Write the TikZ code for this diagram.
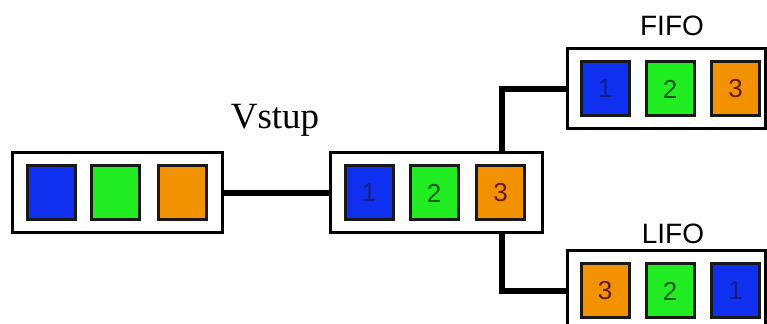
\documentclass[tikz,border=0pt]{standalone}
\usepackage{fontspec}
\setmainfont{Liberation Serif}
\setsansfont{Liberation Sans}
\definecolor{qblue}{RGB}{16,48,240}
\definecolor{qgreen}{RGB}{34,236,34}
\definecolor{qorange}{RGB}{243,146,0}
\definecolor{dblue}{RGB}{20,30,140}
\definecolor{dgreen}{RGB}{16,90,16}
\definecolor{dorange}{RGB}{100,30,10}
\tikzset{
  queue/.style={draw=black,line width=1.5pt,fill=white,minimum width=105pt,minimum height=40pt,inner sep=0pt},
  item/.style={draw=black!90,line width=1.5pt,minimum width=24pt,minimum height=27pt,inner sep=0pt,
    font=\sffamily\fontsize{13}{13}\selectfont},
  link/.style={line width=2.75pt}
}
\begin{document}
\begin{tikzpicture}[x=0.5pt,y=-0.5pt]
\useasboundingbox (0,0) rectangle (767,324);
% queues
\node[queue] (in) at (117,193) {};
\node[queue,minimum width=106pt] (buf) at (436,193) {};
\node[queue,minimum width=99pt] (fifo) at (666,89) {};
\node[queue,minimum width=99pt] (lifo) at (666,291) {};
% input items
\node[item,fill=qblue] (in1) at (51,193) {};
\node[item,fill=qgreen] (in2) at (115.5,193) {};
\node[item,fill=qorange] (in3) at (182,193) {};
% buffer items
\node[item,fill=qblue,text=dblue] (buf1) at (369,193) {1};
\node[item,fill=qgreen,text=dgreen] (buf2) at (434,193) {2};
\node[item,fill=qorange,text=dorange] (buf3) at (500.5,193) {3};
% fifo items
\node[item,fill=qblue,text=dblue] (fifo1) at (605,89) {1};
\node[item,fill=qgreen,text=dgreen] (fifo2) at (670,89) {2};
\node[item,fill=qorange,text=dorange] (fifo3) at (735.5,89) {3};
% lifo items
\node[item,fill=qorange,text=dorange] (lifo3) at (605,291) {3};
\node[item,fill=qgreen,text=dgreen] (lifo2) at (670,291) {2};
\node[item,fill=qblue,text=dblue] (lifo1) at (735.5,291) {1};
% labels
\node[font=\fontsize{18.5}{18.5}\selectfont] (vstup) at (275,120) {Vstup};
\node[font=\sffamily\fontsize{14}{14}\selectfont] (fifolbl) at (672,26) {FIFO};
\node[font=\sffamily\fontsize{14}{14}\selectfont] (lifolbl) at (673,234) {LIFO};
% links
\draw[link] (in.east) -- (buf.west);
\draw[link] (buf.north -| 502,0) |- (fifo.west);
\draw[link] (buf.south -| 502,0) |- (lifo.west);
\end{tikzpicture}
\end{document}
